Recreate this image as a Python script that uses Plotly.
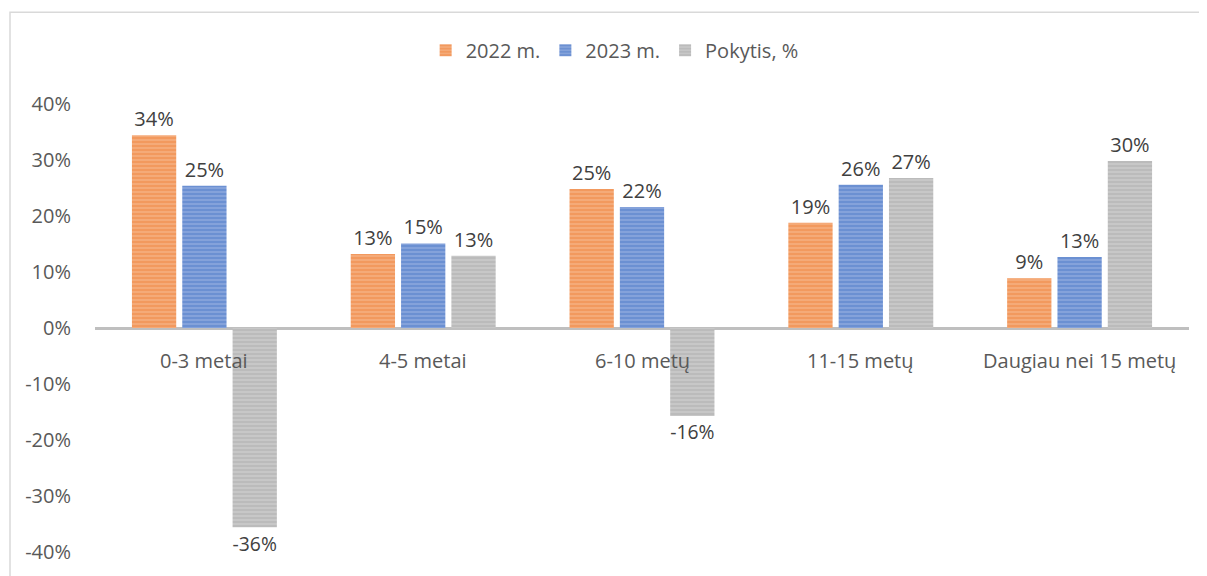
import plotly.graph_objects as go

categories = ["0-3 metai", "4-5 metai", "6-10 metų", "11-15 metų", "Daugiau nei 15 metų"]
series_names = ["2022 m.", "2023 m.", "Pokytis, %"]
v2022 = [0.344, 0.132, 0.248, 0.188, 0.089]
v2023 = [0.254, 0.151, 0.216, 0.256, 0.127]
pokytis = [-0.356, 0.129, -0.157, 0.268, 0.298]
y_ticks = [-0.4, -0.3, -0.2, -0.1, 0, 0.1, 0.2, 0.3, 0.4]
y_tick_text = [f"{round(v * 100)}%" for v in y_ticks]

colors = ["#ED7D31", "#4472C4", "#A5A5A5"]
bg_colors = ["#F6B58A", "#93AEE0", "#D0D0D0"]
FONT = "Open Sans"
FS = 20

fig = go.Figure()
for name, vals, c, bg in zip(series_names, [v2022, v2023, pokytis], colors, bg_colors):
    fig.add_trace(go.Bar(
        x=categories, y=vals, name=name,
        marker=dict(color=c, line=dict(width=0),
                    pattern=dict(shape="-", fgcolor=c, bgcolor=bg, size=4, solidity=0.7)),
        texttemplate="%{y:.0%}", textposition="outside",
        textfont=dict(size=FS, color="#404040", family=FONT),
        cliponaxis=False,
    ))

for cat in categories:
    fig.add_annotation(x=cat, y=0, xref="x", yref="y", text=cat, showarrow=False,
                       yanchor="middle", yshift=-32,
                       font=dict(size=FS, color="#595959", family=FONT))

# chart frame
fig.add_shape(type="rect", xref="paper", yref="paper", x0=-0.0777, x1=1.2, y0=-0.3, y1=1.205,
              line=dict(color="#D9D9D9", width=1.5), fillcolor="rgba(0,0,0,0)", layer="below")

fig.update_layout(
    width=1207, height=576,
    margin=dict(l=87, r=26, t=96, b=32, autoexpand=False),
    plot_bgcolor="white", paper_bgcolor="white",
    barmode="group", bargap=0.31, bargroupgap=0.12,
    font=dict(family=FONT, size=FS, color="#595959"),
    showlegend=True,
    legend=dict(orientation="h", x=0.475, xanchor="center", y=1.12, yanchor="middle",
                font=dict(size=FS, color="#595959", family=FONT), itemwidth=30,
                traceorder="normal"),
    xaxis=dict(showticklabels=False, showgrid=False, zeroline=False, showline=False, ticks=""),
    yaxis=dict(range=[-0.4, 0.4], tickvals=y_ticks, ticktext=y_tick_text, showgrid=False,
               zeroline=True, zerolinecolor="#BFBFBF", zerolinewidth=2.5,
               ticks="outside", ticklen=19, tickcolor="rgba(0,0,0,0)", showline=False,
               tickfont=dict(size=FS, color="#595959", family=FONT)),
)

fig.write_html("out.html")
